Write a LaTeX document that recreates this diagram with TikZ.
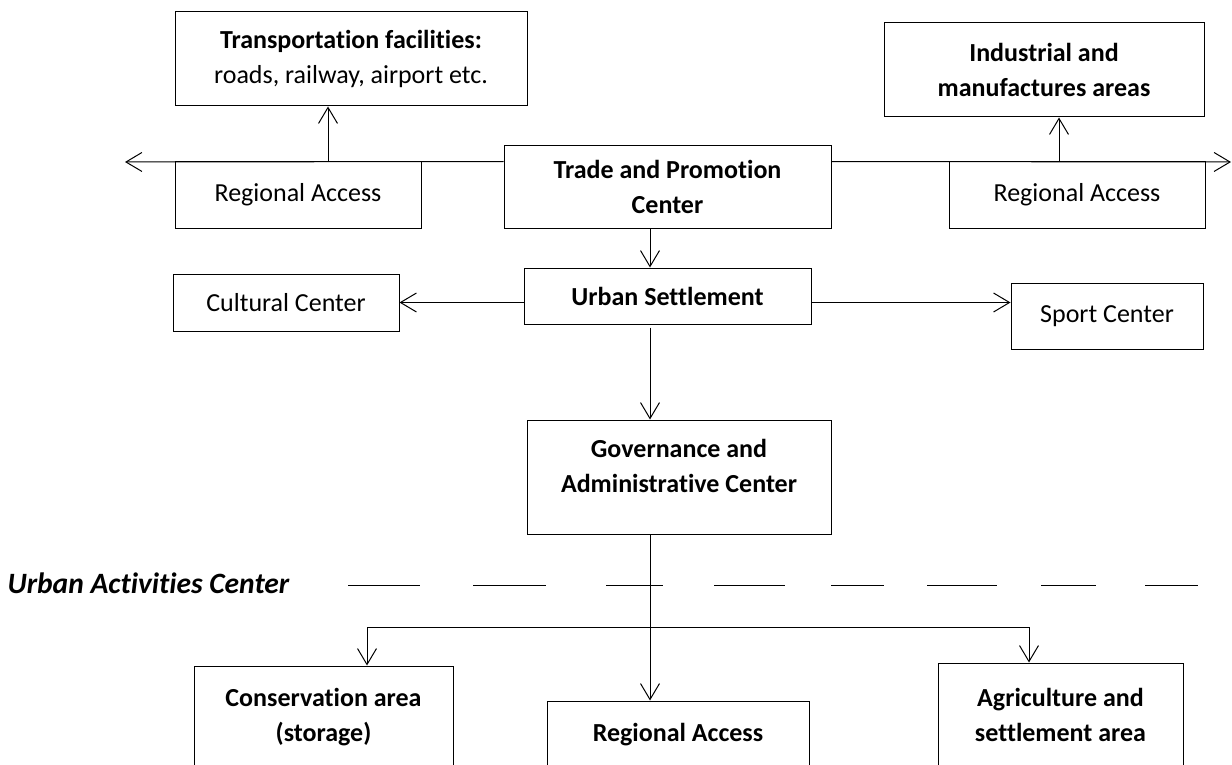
\documentclass[tikz,border=0pt]{standalone}
\usepackage{fontspec}
\setmainfont{Carlito}[RawFeature={-liga;-clig;-calt}]
\usetikzlibrary{arrows.meta}

\tikzset{
  block/.style={draw, rectangle, align=center, inner sep=0pt, line width=1pt},
}

\begin{document}
\begin{tikzpicture}[x=1pt, y=-1pt, line width=1pt, >={Straight Barb[length=16pt,width=19pt]}, font=\fontsize{26}{35}\selectfont]
        \clip (0,0) rectangle (1232,765);

        % Draw the top boxes
        \node[block, minimum width=352pt, minimum height=94pt] (trans) at (351,59) {\textbf{Transportation facilities:}\\roads, railway, airport etc.};
        \node[block, minimum width=320pt, minimum height=94pt, font=\fontsize{26}{35}\selectfont\bfseries] (indus) at (1044,70) {Industrial and\\manufactures areas};

        % Draw the access row
        \node[block, minimum width=246pt, minimum height=66pt] (regL) at (298,195) {Regional Access};
        \node[block, minimum width=327pt, minimum height=82pt, font=\fontsize{26}{35}\selectfont\bfseries] (trade) at (667.5,187) {Trade and Promotion\\Center};
        \node[block, minimum width=256pt, minimum height=66pt] (regR) at (1077,195) {Regional Access};

        % Draw the settlement row
        \node[block, minimum width=287pt, minimum height=56pt, font=\fontsize{26}{35}\selectfont\bfseries] (urban) at (667.5,296) {Urban Settlement};
        \node[block, minimum width=226pt, minimum height=57pt] (cult) at (286,302.5) {Cultural Center};
        \node[block, minimum width=192pt, minimum height=66pt] (sport) at (1107,316) {Sport Center};

        % Draw the governance box
        \node[block, minimum width=304pt, minimum height=114pt, font=\fontsize{26}{35}\selectfont\bfseries] (gov) at (679,477) {Governance and\\Administrative Center\\[-12pt]\mbox{}};

        % Draw the bottom boxes (cut by the page edge)
        \node[block, minimum width=259pt, minimum height=102pt, font=\fontsize{26}{35}\selectfont\bfseries] (cons) at (323.5,717) {Conservation area\\(storage)};
        \node[block, minimum width=262pt, minimum height=68pt, font=\fontsize{26}{35}\selectfont\bfseries] (regB) at (678,735) {Regional Access};
        \node[block, minimum width=245pt, minimum height=104pt, font=\fontsize{26}{35}\selectfont\bfseries] (agri) at (1060.5,715) {Agriculture and\\settlement area};

        % Label the activities zone
        \node[anchor=west, inner sep=0pt, font=\fontsize{29.5}{35}\selectfont\bfseries\itshape] (uac) at (7,583) {Urban Activities Center};

        % Helper points
        \coordinate (spine) at (650,0);
        \coordinate (westEnd) at (125,162);
        \coordinate (eastEnd) at (1231,162);
        \coordinate (regLup) at ([xshift=30pt]regL.north);
        \coordinate (regRup) at ([xshift=-18pt]regR.north);
        \coordinate (usGap) at ([yshift=-3pt]urban.south);
        \coordinate (brW) at (367,627);
        \coordinate (brE) at (1029,627);

        % Draw the regional links
        \draw[->] (trade.west |- regL.north) -- (westEnd);
        \draw[->] (trade.east |- regR.north) -- (eastEnd);
        \draw[->] (regLup) -- (regLup |- trans.south);
        \draw[->] (regRup) -- (regRup |- indus.south);

        % Draw the central links
        \draw[->] (trade.south -| spine) -- (urban.north -| spine);
        \draw[->] (urban.west |- cult.east) -- (cult.east);
        \draw[->] (urban.east |- cult.east) -- (sport.west |- cult.east);
        \draw[->] (usGap -| spine) -- (gov.north -| spine);
        \draw[->] (gov.south -| spine) -- (regB.north -| spine);

        % Draw the branch to the outer areas
        \draw[<->] (brW |- cons.north) -- (brW) -- (brE) -- (brE |- agri.north);

        % Draw the dashed zone border
        \foreach \a/\b in {348/420, 473/546, 606/663, 714/785, 831/884, 927/997, 1041/1096, 1145/1198}
            \draw (\a,585) -- (\b,585);

    \end{tikzpicture}
\end{document}
